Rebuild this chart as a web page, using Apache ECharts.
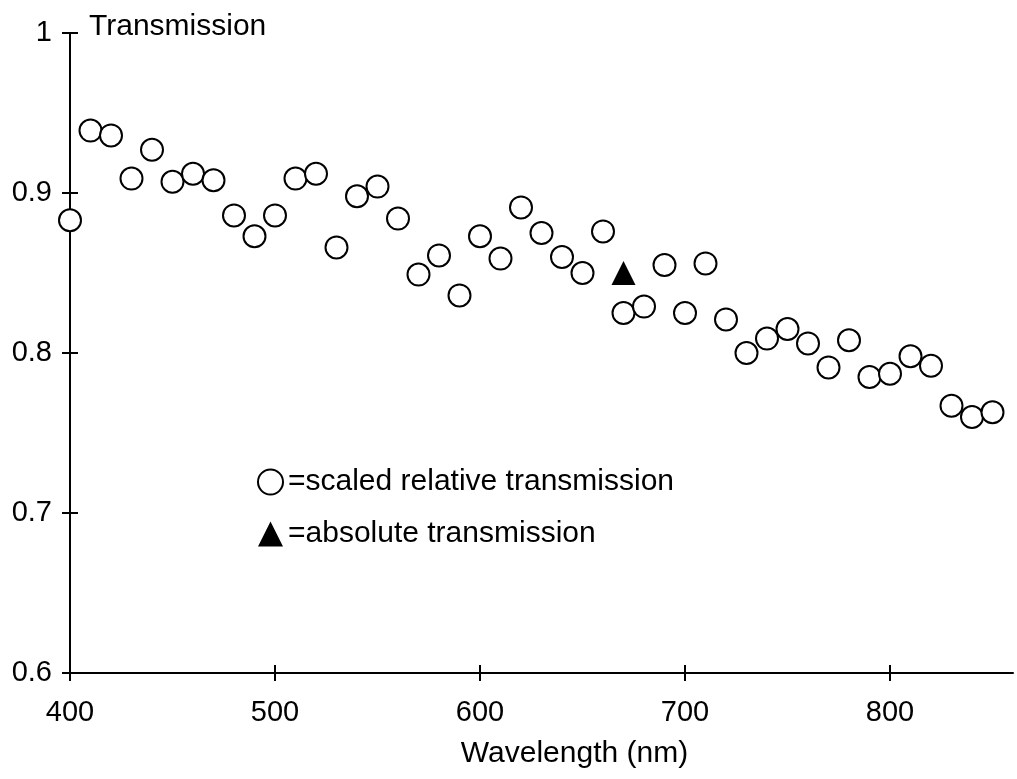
<!DOCTYPE html>
<html>
<head>
<meta charset="utf-8">
<script src="https://cdn.jsdelivr.net/npm/echarts@6/dist/echarts.min.js"></script>
<style>
html,body{margin:0;padding:0;background:#fff;}
#chart{width:1017px;height:779px;}
</style>
</head>
<body>
<div id="chart"></div>
<script>
// Wavelengths (nm) of the scaled relative transmission points
const wavelengths = [400,410,420,430,440,450,460,470,480,490,500,510,520,530,540,550,560,570,580,590,600,610,620,630,640,650,660,670,680,690,700,710,720,730,740,750,760,770,780,790,800,810,820,830,840,850];
// Scaled relative transmission values
const relativeTransmission = [0.883,0.939,0.936,0.909,0.927,0.907,0.912,0.908,0.886,0.873,0.886,0.909,0.912,0.866,0.898,0.904,0.884,0.849,0.861,0.836,0.873,0.859,0.891,0.875,0.860,0.850,0.876,0.825,0.829,0.855,0.825,0.856,0.821,0.800,0.809,0.815,0.806,0.791,0.808,0.785,0.787,0.798,0.792,0.767,0.760,0.763];
// Absolute transmission measurement
const absWavelengths = [670];
const absoluteTransmission = [0.850];
// Axis ticks
const xTicks = [400,500,600,700,800];
const yTicks = [0.6,0.7,0.8,0.9,1];

const FONT = 'Liberation Sans, Arial, Helvetica, sans-serif';
const FS = 29;   // tick labels
const FT = 30;   // words

const relData = wavelengths.map((w,i)=>[w, relativeTransmission[i]]);
const absData = absWavelengths.map((w,i)=>[w, absoluteTransmission[i]]);

const chart = echarts.init(document.getElementById('chart'), null, {renderer:'canvas'});

const axisLineStyle = {color:'#000', width:2};
const tickStyle = {color:'#000', width:2};

chart.setOption({
  backgroundColor:'#fff',
  animation:false,
  grid:{left:70, right:4, top:33, bottom:106, containLabel:false},
  xAxis:[
    {
      type:'value', min:400, max:860, interval:100, position:'bottom',
      splitLine:{show:false},
      axisLine:{show:true, onZero:false, lineStyle:axisLineStyle},
      axisTick:{show:true, inside:false, length:8, lineStyle:tickStyle, customValues: xTicks},
      axisLabel:{show:true, margin:25, color:'#000', fontFamily:FONT, fontSize:FS,
        customValues: xTicks},
      name:'Wavelength (nm)', nameLocation:'middle', nameGap:66,
      nameTextStyle:{color:'#000', fontFamily:FONT, fontSize:FT, padding:[0,0,0,66]}
    },
    {
      type:'value', min:400, max:860, interval:100, position:'bottom',
      splitLine:{show:false},
      axisLine:{show:false, onZero:false},
      axisTick:{show:true, inside:true, length:8, lineStyle:tickStyle, customValues: xTicks},
      axisLabel:{show:false}
    }
  ],
  yAxis:[
    {
      type:'value', min:0.6, max:1.0, interval:0.1, position:'left',
      splitLine:{show:false},
      axisLine:{show:true, onZero:false, lineStyle:axisLineStyle},
      axisTick:{show:true, inside:false, length:8, lineStyle:tickStyle, customValues: yTicks},
      axisLabel:{show:true, margin:18, color:'#000', fontFamily:FONT, fontSize:FS,
        padding:[0,0,6,0],
        customValues: yTicks,
        formatter:function(v){ return String(parseFloat(Number(v).toFixed(2))); }}
    },
    {
      type:'value', min:0.6, max:1.0, interval:0.1, position:'left',
      splitLine:{show:false},
      axisLine:{show:false, onZero:false},
      axisTick:{show:true, inside:true, length:8, lineStyle:tickStyle, customValues: yTicks},
      axisLabel:{show:false}
    }
  ],
  legend:{
    orient:'vertical', left:252, top:462, itemWidth:25, itemHeight:25, itemGap:22,
    textStyle:{color:'#000', fontFamily:FONT, fontSize:FT},
    formatter:function(name){ return '=' + name; },
    data:['scaled relative transmission','absolute transmission']
  },
  graphic:[
    {type:'text', x:89, y:27, style:{text:'Transmission', fill:'#000', font:FT+'px '+FONT, align:'left', verticalAlign:'middle'}}
  ],
  series:[
    {
      name:'scaled relative transmission', type:'scatter', xAxisIndex:0, yAxisIndex:0,
      symbol:'circle', symbolSize:22,
      itemStyle:{color:'#fff', borderColor:'#000', borderWidth:2, opacity:1},
      data: relData, z:2
    },
    {
      name:'absolute transmission', type:'scatter', xAxisIndex:1, yAxisIndex:1,
      symbol:'triangle', symbolSize:24,
      itemStyle:{color:'#000', borderWidth:0, opacity:1},
      data: absData, z:3
    }
  ]
});
</script>
</body>
</html>
